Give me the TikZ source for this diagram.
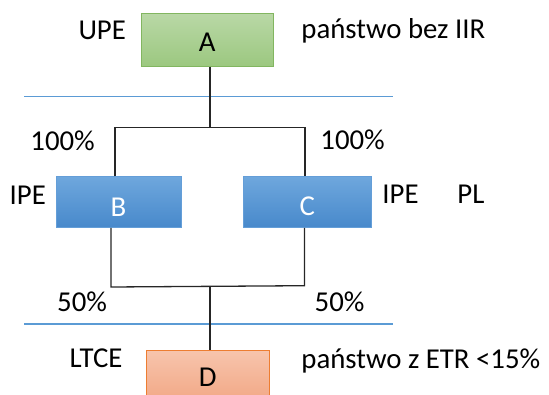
\documentclass[tikz,border=0pt]{standalone}
\usepackage{fontspec}
\setmainfont{Carlito}
\definecolor{ruleblue}{RGB}{91,155,213}
\definecolor{greentop}{RGB}{185,216,166}
\definecolor{greenbot}{RGB}{156,200,128}
\definecolor{greenline}{RGB}{130,182,96}
\definecolor{bluetop}{RGB}{110,167,221}
\definecolor{bluebot}{RGB}{72,137,203}
\definecolor{blueline}{RGB}{100,158,216}
\definecolor{orangetop}{RGB}{247,196,172}
\definecolor{orangebot}{RGB}{242,168,134}
\definecolor{orangeline}{RGB}{237,125,49}
\begin{document}
\begin{tikzpicture}[x=1pt,y=-1pt,
  txt/.style={font=\fontsize{28.8}{34}\selectfont},
  box/.style={txt, rectangle, inner sep=0pt, line width=0.9pt},
  greenbox/.style={box, draw=greenline, top color=greentop, bottom color=greenbot},
  bluebox/.style={box, draw=blueline, top color=bluetop, bottom color=bluebot, text=white},
  orangebox/.style={box, draw=orangeline, top color=orangetop, bottom color=orangebot},
  lbl/.style={txt, anchor=base west, inner sep=0pt},
  link/.style={draw=black!85, line width=1.3pt},
  rule/.style={draw=ruleblue, line width=1.1pt}]
\useasboundingbox (0,0) rectangle (549,394);
\clip (0,0) rectangle (549,394);

% entities
\node[greenbox, minimum width=131.3pt, minimum height=52.7pt, text height=24pt] (A) at (207.3,39.7) {A};
\node[bluebox, minimum width=125pt, minimum height=50.6pt, text height=28pt] (B) at (118.5,202) {B};
\node[bluebox, minimum width=127.7pt, minimum height=50.6pt, text height=28pt] (C) at (307.2,202) {C};
\node[orangebox, minimum width=123.3pt, minimum height=50.6pt, text height=21.4pt] (D) at (207.7,376) {D};

% separating rules
\coordinate (r1a) at (24,96.3);
\coordinate (r1b) at (393,96.3);
\coordinate (r2a) at (24,324);
\coordinate (r2b) at (393,324);
\draw[rule] (r1a) -- (r1b);
\draw[rule] (r2a) -- (r2b);

% ownership links
\coordinate (jt) at (210,127.7);
\coordinate (bt) at (115,127.7);
\coordinate (ct) at (305,127.7);
\draw[link] (jt |- A.south) -- (jt);
\draw[link] (bt |- B.north) -- (bt) -- (ct) -- (ct |- C.north);

\coordinate (bb) at (111,287);
\coordinate (cb) at (304.5,285.7);
\coordinate (jb) at (210,286.3);
\draw[link] (bb |- B.south) -- (bb) -- (cb) -- (cb |- C.south);
\draw[link] (jb) -- (jb |- D.north);

% labels
\node[lbl] (lupe) at (78.3,39.3) {UPE};
\node[lbl] (lstA) at (301.2,38.3) {państwo bez IIR};
\node[lbl] (pB) at (30.2,150) {100\%};
\node[lbl] (pC) at (320.2,149.3) {100\%};
\node[lbl] (ipeB) at (9.5,204.3) {IPE};
\node[lbl] (ipeC) at (382.2,203.3) {IPE};
\node[lbl] (plC) at (457.2,203.3) {PL};
\node[lbl] (qB) at (57,311.7) {50\%};
\node[lbl] (qC) at (314.5,311.7) {50\%};
\node[lbl] (ltce) at (69.5,367.7) {LTCE};
\node[lbl] (lstD) at (301.2,368) {państwo z ETR <15\%};
\end{tikzpicture}
\end{document}
